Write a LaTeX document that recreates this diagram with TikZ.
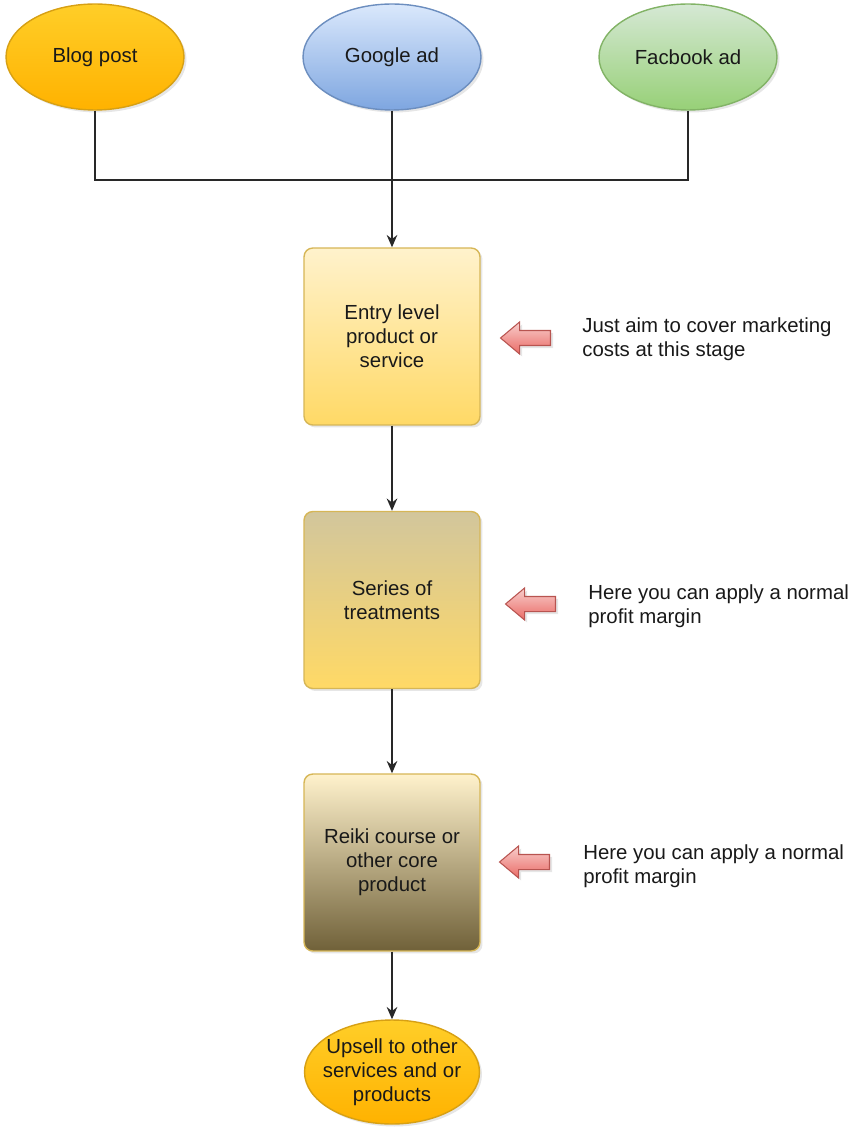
\documentclass[tikz,border=0pt]{standalone}
\usepackage{fontspec}
\setmainfont{Liberation Sans}
\usetikzlibrary{shapes.geometric,shapes.arrows,arrows.meta,shadows}
\definecolor{blogtop}{RGB}{255,206,40}
\definecolor{blogbottom}{RGB}{255,178,0}
\definecolor{blogline}{RGB}{215,160,20}
\definecolor{googletop}{RGB}{218,232,252}
\definecolor{googlebottom}{RGB}{126,166,224}
\definecolor{googleline}{RGB}{108,142,191}
\definecolor{fbtop}{RGB}{213,232,212}
\definecolor{fbbottom}{RGB}{151,208,119}
\definecolor{fbline}{RGB}{130,179,102}
\definecolor{boxtop}{RGB}{255,242,204}
\definecolor{boxbottom}{RGB}{255,217,102}
\definecolor{boxline}{RGB}{214,182,86}
\definecolor{seriestop}{RGB}{210,198,156}
\definecolor{reikibottom}{RGB}{112,97,57}
\definecolor{hinttop}{RGB}{248,206,204}
\definecolor{hintbottom}{RGB}{234,107,102}
\definecolor{hintline}{RGB}{184,84,80}
\definecolor{wire}{RGB}{40,40,40}
\definecolor{ink}{RGB}{25,25,25}

\begin{document}
\begin{tikzpicture}[x=0.02cm, y=-0.02cm]
            \tikzstyle{every node} = [font=\fontsize{11.6}{13.7}\selectfont, text=ink]
            \tikzstyle{shade} = [drop shadow={opacity=0.2, shadow xshift=0.05cm, shadow yshift=-0.05cm}]
            \tikzstyle{source} = [ellipse, shade, line width=0.8pt, minimum width=3.56cm, minimum height=2.12cm, align=center]
            \tikzstyle{stage} = [rectangle, shade, rounded corners=5pt, draw=boxline, line width=0.8pt, minimum width=3.52cm, minimum height=3.54cm, align=center]
            \tikzstyle{hint} = [single arrow, shade, shape border rotate=180, draw=hintline, top color=hinttop, bottom color=hintbottom, line width=0.6pt, inner sep=0.14cm, minimum height=1cm, single arrow head extend=0.17cm, single arrow tip angle=80]
            \tikzstyle{note} = [anchor=west, align=left, inner sep=0pt]
            \tikzstyle{wire} = [draw=wire, line width=1pt]
            \useasboundingbox (0,0) rectangle (855,1128);

            % sources
            \node[source, draw=blogline, top color=blogtop, bottom color=blogbottom] (blog) at (95,57) {Blog post};
            \node[source, draw=googleline, top color=googletop, bottom color=googlebottom] (google) at (392,57) {Google ad};
            \node[source, draw=fbline, top color=fbtop, bottom color=fbbottom] (facebook) at (688,57) {Facbook ad};
            \coordinate (join) at (392,180);

            % stages
            \node[stage, top color=boxtop, bottom color=boxbottom] (entry) at (392,336.5) {Entry level\\product or\\service};
            \node[stage, top color=seriestop, bottom color=boxbottom] (series) at (392,600) {Series of\\treatments};
            \node[stage, top color=boxtop, bottom color=reikibottom] (reiki) at (392,862.5) {Reiki course or\\other core\\product};
            \node[source, draw=blogline, top color=blogtop, bottom color=blogbottom, minimum width=3.5cm, minimum height=2.08cm,
                label={[align=center]center:Upsell to other\\services and or\\products}] (upsell) at (392,1072) {};

            % hints
            \node[hint] (hintentry) at (530,338) {};
            \node[hint] (hintseries) at (535,604) {};
            \node[hint] (hintreiki) at (529,862) {};
            \node[note] (noteentry) at (582,339) {Just aim to cover marketing\\costs at this stage};
            \node[note] (noteseries) at (588,606) {Here you can apply a normal\\profit margin};
            \node[note] (notereiki) at (583,866) {Here you can apply a normal\\profit margin};

            \draw[wire] (blog.south) |- (join) -| (facebook.south);
            \draw[wire, -{Stealth[length=7pt, width=6pt]}] (google.south) -- (entry.north);
            \draw[wire, -{Stealth[length=7pt, width=6pt]}] (entry.south) -- (series.north);
            \draw[wire, -{Stealth[length=7pt, width=6pt]}] (series.south) -- (reiki.north);
            \draw[wire, -{Stealth[length=7pt, width=6pt]}] (reiki.south) -- (upsell.north);
        \end{tikzpicture}
\end{document}
